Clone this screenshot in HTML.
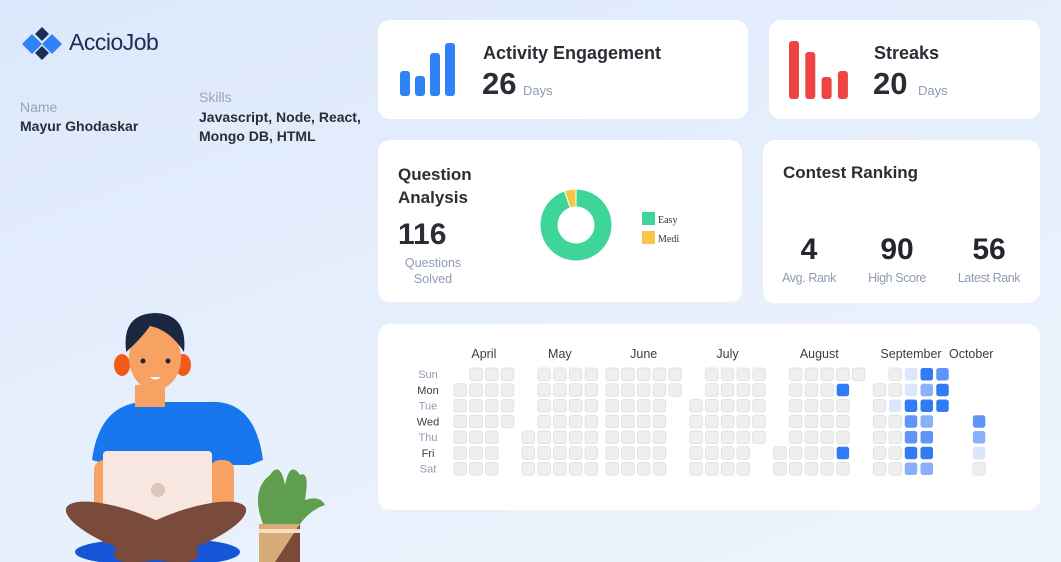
<!DOCTYPE html>
<html><head><meta charset="utf-8">
<style>
*{margin:0;padding:0;box-sizing:border-box}
body{width:1061px;height:562px;overflow:hidden;font-family:"Liberation Sans",sans-serif;background:linear-gradient(160deg,#dce8fb 0%,#e8f0fc 60%,#eef4fd 100%);position:relative;color:#23262f}
.abs{position:absolute}
.card{position:absolute;background:#fff;border-radius:12px}
.t{position:absolute;white-space:nowrap}
</style></head><body>
<div class="abs" style="left:22px;top:25px;width:160px;height:36px">
<svg width="50" height="36" class="abs" style="left:0;top:0">
<polygon points="20,2 27,9 20,16 13,9" fill="#1a2f57"/>
<polygon points="10,9 20,19 10,29 0,19" fill="#3182f6"/>
<polygon points="30,9 40,19 30,29 20,19" fill="#3182f6"/>
<polygon points="20,21 27,28 20,35 13,28" fill="#1a2f57"/>
</svg>
<div class="t" style="left:47px;top:4px;font-size:23px;color:#1a2f57;letter-spacing:-0.5px">AccioJob</div>
</div>
<div class="t" style="left:20px;top:99px;font-size:14px;color:#9aa3b3">Name</div>
<div class="t" style="left:20px;top:118px;font-size:14px;font-weight:bold;color:#2a2d34">Mayur Ghodaskar</div>
<div class="t" style="left:199px;top:89px;font-size:14px;color:#9aa3b3">Skills</div>
<div class="t" style="left:199px;top:108px;font-size:14px;font-weight:bold;color:#2a2d34;line-height:19px">Javascript, Node, React,<br>Mongo DB, HTML</div>

<svg class="abs" style="left:50px;top:300px" width="280" height="262">
<ellipse cx="80" cy="252" rx="55" ry="12" fill="#1556d8"/><ellipse cx="140" cy="252" rx="50" ry="12" fill="#1556d8"/>
<path d="M42 160 Q50 100 100 102 L160 102 Q205 100 213 160 L200 165 L60 165Z" fill="#1877ef"/>
<rect x="85" y="85" width="30" height="22" fill="#f7a162"/>
<ellipse cx="72" cy="65" rx="8" ry="11" fill="#f25a18"/><ellipse cx="133" cy="65" rx="8" ry="11" fill="#f25a18"/>
<ellipse cx="105" cy="58" rx="26" ry="32" fill="#f7a162"/>
<path d="M76 50 Q72 14 105 13 Q138 14 134 52 Q120 30 100 26 Q90 40 76 52Z" fill="#1b2640"/>
<circle cx="93" cy="61" r="2.5" fill="#1b2640"/><circle cx="118" cy="61" r="2.5" fill="#1b2640"/>
<path d="M100 77 Q105 82 111 77Z" fill="#fff"/>
<rect x="44" y="160" width="24" height="50" rx="10" fill="#f7a162"/><rect x="160" y="160" width="24" height="50" rx="10" fill="#f7a162"/>
<rect x="53" y="151" width="109" height="82" rx="4" fill="#f8e6e0"/>
<circle cx="108" cy="190" r="7" fill="#dcc6bc"/>
<ellipse cx="82" cy="232" rx="70" ry="20" transform="rotate(20 82 232)" fill="#7a4a3a"/>
<ellipse cx="130" cy="232" rx="70" ry="20" transform="rotate(-20 130 232)" fill="#7a4a3a"/>
<path d="M213 224 Q200 190 220 175 Q230 160 235 185 Q240 160 250 175 Q260 170 255 200 Q270 195 275 205 Q260 210 250 224Z" fill="#5e9e4e"/>
<rect x="209" y="224" width="41" height="38" fill="#d6ac78"/><path d="M250 224 L250 262 L225 262Z" fill="#7a4a3a"/>
<rect x="209" y="229" width="41" height="4" fill="#f6dcc0"/>
</svg>

<div class="card" style="left:378px;top:20px;width:370px;height:99px">
<svg class="abs" style="left:0;top:0" width="100" height="99" id="actbars"></svg>
<div class="t" style="left:105px;top:23px;font-size:18px;font-weight:bold;color:#2a2d34">Activity Engagement</div>
<div class="t" style="left:104px;top:46px;font-size:31px;font-weight:bold;color:#2a2d34">26</div>
<div class="t" style="left:145px;top:63px;font-size:13px;color:#8f9bb3">Days</div>
</div>
<div class="card" style="left:769px;top:20px;width:271px;height:99px">
<svg class="abs" style="left:0;top:0" width="100" height="99" id="strbars"></svg>
<div class="t" style="left:105px;top:23px;font-size:18px;font-weight:bold;color:#2a2d34">Streaks</div>
<div class="t" style="left:104px;top:46px;font-size:31px;font-weight:bold;color:#2a2d34">20</div>
<div class="t" style="left:149px;top:63px;font-size:13px;color:#8f9bb3">Days</div>
</div>

<div class="card" style="left:378px;top:140px;width:364px;height:162px">
<div class="t" style="left:20px;top:23px;font-size:17px;font-weight:bold;line-height:23px;color:#2a2d34">Question<br>Analysis</div>
<div class="t" style="left:20px;top:78px;font-size:30px;font-weight:bold;color:#2a2d34">116</div>
<div class="t" style="left:20px;top:115px;width:70px;text-align:center;font-size:12.5px;line-height:16px;color:#8f9bb3">Questions<br>Solved</div>
<svg class="abs" style="left:0;top:0" width="364" height="162" id="donut"></svg>
</div>

<div class="card" style="left:763px;top:140px;width:277px;height:163px">
<div class="t" style="left:20px;top:23px;font-size:17px;font-weight:bold;color:#2a2d34">Contest Ranking</div>
<div class="t" style="left:16px;top:93px;width:60px;text-align:center;font-size:30px;font-weight:bold">4</div>
<div class="t" style="left:6px;top:131px;width:80px;text-align:center;font-size:12.5px;color:#8f9bb3;letter-spacing:-0.4px">Avg. Rank</div>
<div class="t" style="left:104px;top:93px;width:60px;text-align:center;font-size:30px;font-weight:bold">90</div>
<div class="t" style="left:94px;top:131px;width:80px;text-align:center;font-size:12.5px;color:#8f9bb3;letter-spacing:-0.4px">High Score</div>
<div class="t" style="left:196px;top:93px;width:60px;text-align:center;font-size:30px;font-weight:bold">56</div>
<div class="t" style="left:186px;top:131px;width:80px;text-align:center;font-size:12.5px;color:#8f9bb3;letter-spacing:-0.4px">Latest Rank</div>
</div>

<div class="card" style="left:378px;top:324px;width:662px;height:186px"></div>
<svg class="abs" style="left:0;top:0" width="1061" height="562" id="heat"></svg>

<script>
const NS="http://www.w3.org/2000/svg";
function mk(p,tag,a){const e=document.createElementNS(NS,tag);for(const k in a)e.setAttribute(k,a[k]);p.appendChild(e);return e;}
const activityBars=[25,20,43,53];
const streakBars=[58,47,22,28];
function bars(id,vals,x0,step,bottom,color,name){
 const s=document.getElementById(id);
 vals.forEach((v,i)=>{const r=mk(s,'rect',{x:x0+i*step,y:bottom-v,width:10,height:v,rx:3,fill:color});
 
 });
}
bars('actbars',activityBars,22,15,76,'#3182f6','activity-bar');
bars('strbars',streakBars,20,16.3,79,'#ef4444','streak-bar');

const donutLabels=["Easy","Medium"];
const donutValues=[110,6];
const donutColors=["#3dd598","#f7c548"];
(function(){
 const s=document.getElementById('donut');const cx=198,cy=85,R=36,r=18;
 const tot=donutValues.reduce((a,b)=>a+b,0);let a0=0;
 donutValues.forEach((v,i)=>{
  const a1=a0+v/tot*2*Math.PI;
  const p=(a,rad)=>[cx+rad*Math.sin(a),cy-rad*Math.cos(a)];
  const [x1,y1]=p(a0,R),[x2,y2]=p(a1,R),[x3,y3]=p(a1,r),[x4,y4]=p(a0,r);
  const lg=(a1-a0)>Math.PI?1:0;
  const e=mk(s,'path',{d:`M${x1} ${y1}A${R} ${R} 0 ${lg} 1 ${x2} ${y2}L${x3} ${y3}A${r} ${r} 0 ${lg} 0 ${x4} ${y4}Z`,fill:donutColors[i],stroke:'#fff','stroke-width':1});
  
  
  a0=a1;
 });
 donutLabels.forEach((l,i)=>{
  const g=mk(s,'g',{});
  
  
  mk(g,'rect',{x:264,y:72+i*19,width:13,height:13,fill:donutColors[i]});
  const t=mk(g,'text',{x:280,y:83+i*19,'font-size':10,'font-family':'Liberation Serif, serif',fill:'#333'});
  t.textContent=i==1?'Medi':l;
 });
})();

const months=["April","May","June","July","August","September","October"];
const dayLabels=["Sun","Mon","Tue","Wed","Thu","Fri","Sat"];
const heatWeeks=[
 [".000000","0000000","0000000","0000..."],
 ["....000","0000000","0000000","0000000","0000000"],
 ["0000000","0000000","0000000","0000000","00....."],
 ["..00000","0000000","0000000","0000000","00000.."],
 [".....00","0000000","0000000","0000000","0400040","0......"],
 [".000000","0010000","1143342","4242342","344...."],
 [".......","...3210"]
];
(function(){
 const s=document.getElementById('heat');
 const colors=["#efefef","#dbe6fd","#8ab0fa","#5f95f8","#317bf7"];
 const x0=454,y0=368,pitch=15.75,gap=5.1,cell=12.5;
 dayLabels.forEach((d,i)=>{
  const t=mk(s,'text',{x:428,y:y0+i*pitch+10,'text-anchor':'middle','font-size':11,'font-family':'Liberation Sans, sans-serif',fill:i%2?'#3a3d45':'#8f9bb3'});
  t.textContent=d;
  
  
 });
 let x=x0;
 heatWeeks.forEach((weeks,m)=>{
  const start=x;
  weeks.forEach(w=>{
   for(let d=0;d<7;d++){const c=w[d];if(c==='.')continue;const lv=+c;
    const r=mk(s,'rect',{x:x,y:y0+d*pitch,width:cell,height:cell,rx:2.5,fill:colors[lv],stroke:lv?'none':'#dcdcdc','stroke-width':0.8});
    
    }
   x+=pitch;
  });
  const end=x-pitch+cell;
  const t=mk(s,'text',{x:(start+end)/2,y:358,'text-anchor':'middle','font-size':12.5,'font-family':'Liberation Sans, sans-serif',fill:'#3a3d45'});
  t.textContent=months[m];
  
  
  x+=gap;
 });
})();
</script>
</body></html>
